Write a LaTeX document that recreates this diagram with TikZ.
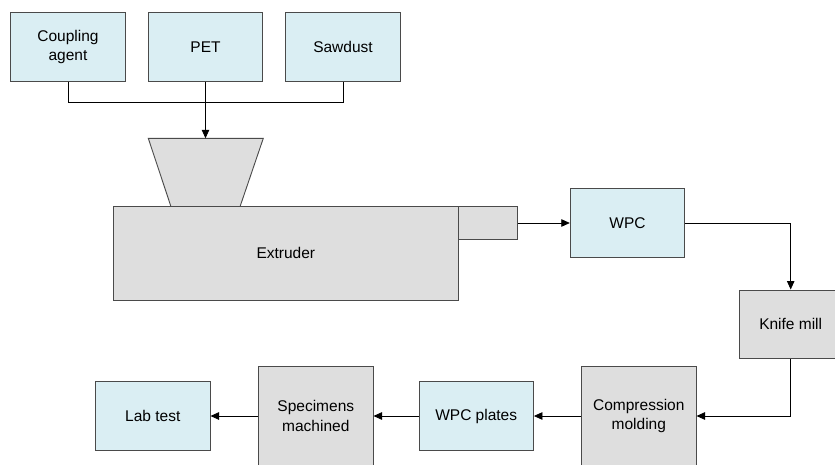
\documentclass[tikz,border=0pt]{standalone}
\usepackage{fontspec}
\setmainfont{Liberation Sans}
\usepackage{tikz}
\usetikzlibrary{arrows.meta}
\definecolor{boxblue}{HTML}{DAEEF3}
\definecolor{boxgray}{HTML}{DEDEDE}
\definecolor{edgegray}{HTML}{4A4A4A}

\begin{document}
\begin{tikzpicture}[x=1pt,y=-1pt,
	box/.style={draw=edgegray,line width=0.9pt,fill=boxblue,minimum width=114.5pt,minimum height=68.5pt,inner sep=0pt,align=center,font=\fontsize{15.5}{19.5}\selectfont},
	graybox/.style={box,fill=boxgray},
	link/.style={draw=black,line width=0.8pt,-{Triangle[length=8.5pt,width=7.5pt]}},
	line/.style={draw=black,line width=0.8pt}]
	\clip (0,0) rectangle (835,464);
	\node [box] (coupling) at (68,47) {Coupling\\agent};
	\node [box] (pet) at (205.5,47) {PET};
	\node [box] (sawdust) at (343,47) {Sawdust};
	\filldraw [draw=edgegray,line width=0.9pt,fill=boxgray] (148.3,138.3) -- (263.3,138.3) -- (240,206.7) -- (171,206.7) -- cycle;
	\coordinate (hopper) at (205.5,138.3);
	\node [graybox,minimum width=345pt,minimum height=93.3pt] (extruder) at (285.8,253.3) {Extruder};
	\node [graybox,minimum width=59.4pt,minimum height=32.6pt] (nozzle) at (488,223) {};
	\node [box] (wpc) at (627.5,223) {WPC};
	\node [graybox,minimum width=103.4pt] (knife) at (790.7,324.2) {Knife mill};
	\node [graybox,minimum height=100pt] (comp) at (638.8,416) {Compression\\molding};
	\node [box] (plates) at (476.2,416) {WPC plates};
	\node [graybox,minimum height=100pt] (spec) at (315.8,416) {Specimens\\machined};
	\node [box] (lab) at (152.8,416) {Lab test};
	\coordinate (bus) at (205.5,102.7);
	\draw [line] (coupling.south) |- (bus) -| (sawdust.south);
	\draw [link] (pet.south) -- (hopper);
	\draw [link] (nozzle.east) -- (wpc.west);
	\draw [link] (wpc.east) -| (knife.north);
	\draw [link] (knife.south) |- (comp.east);
	\draw [link] (comp.west) -- (plates.east);
	\draw [link] (plates.west) -- (spec.east);
	\draw [link] (spec.west) -- (lab.east);
\end{tikzpicture}
\end{document}
